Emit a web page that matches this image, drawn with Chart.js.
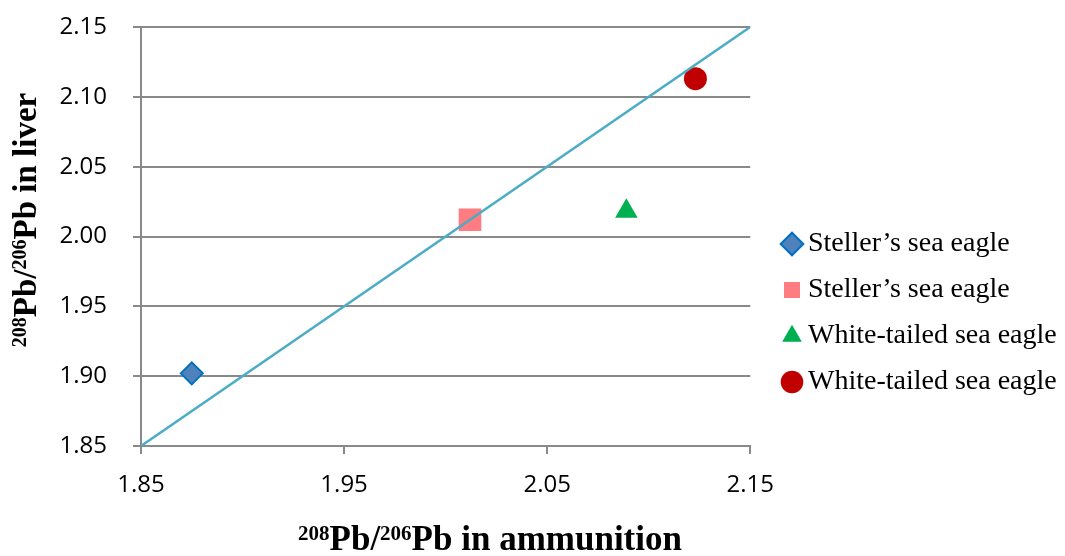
<!DOCTYPE html>
<html>
<head>
<meta charset="utf-8">
<script src="https://cdn.jsdelivr.net/npm/chart.js@4"></script>
<style>
  html, body { margin: 0; padding: 0; background: #fff; }
  #wrap { width: 1065px; height: 556px; }
</style>
</head>
<body>
<div id="wrap"><canvas id="leadChart"></canvas></div>
<script>
// series
const seriesNames = ['Steller’s sea eagle', 'Steller’s sea eagle', 'White-tailed sea eagle', 'White-tailed sea eagle'];
const ammunitionRatio = [1.875, 2.012, 2.089, 2.123];
const liverRatio = [1.902, 2.012, 2.018, 2.113];

// 1:1 reference line
const lineX = [1.85, 2.15];
const lineY = [1.85, 2.15];

// tick labels
const xTicks = [1.85, 1.95, 2.05, 2.15];
const yTicks = [1.85, 1.90, 1.95, 2.00, 2.05, 2.10, 2.15];

const gridGrey = '#898989';

// marker look for each series
const markers = [
    { pointStyle: 'rectRot', radius: 11, backgroundColor: '#4F81BD', borderColor: '#0070C0', borderWidth: 2 },
    { pointStyle: 'rect', radius: 16, backgroundColor: '#FF7C80', borderColor: '#FF7C80', borderWidth: 0 },
    { pointStyle: 'triangle', radius: 13, backgroundColor: '#00B050', borderColor: '#00B050', borderWidth: 0 },
    { pointStyle: 'circle', radius: 11.5, backgroundColor: '#C00000', borderColor: '#C00000', borderWidth: 0 }
];

const datasets = [{
    label: '1:1',
    data: lineX.map((x, i) => ({ x: x, y: lineY[i] })),
    showLine: true,
    pointRadius: 0,
    borderColor: '#4BACC6',
    borderWidth: 2.5,
    order: 0
}];

seriesNames.forEach((name, i) => {
    const m = markers[i];
    datasets.push({
        label: name,
        data: [{ x: ammunitionRatio[i], y: liverRatio[i] }],
        pointStyle: m.pointStyle,
        pointRadius: m.radius,
        backgroundColor: m.backgroundColor,
        borderColor: m.borderColor,
        borderWidth: m.borderWidth,
        order: 1
    });
});

// draws a title with superscript mass numbers
function drawRichText(ctx, parts, cx, baseY, size, supSize) {
    const mainFont = 'bold ' + size + 'px "Liberation Serif", "Times New Roman", serif';
    const supFont = 'bold ' + supSize + 'px "Liberation Serif", "Times New Roman", serif';
    let total = 0;
    parts.forEach(p => {
        ctx.font = p.sup ? supFont : mainFont;
        total += ctx.measureText(p.text).width;
    });
    let x = cx - total / 2;
    ctx.fillStyle = '#000';
    ctx.textBaseline = 'alphabetic';
    ctx.textAlign = 'left';
    parts.forEach(p => {
        ctx.font = p.sup ? supFont : mainFont;
        ctx.fillText(p.text, x, p.sup ? baseY - 10 : baseY);
        x += ctx.measureText(p.text).width;
    });
}

const axisTitles = {
    id: 'axisTitles',
    afterDraw(chart) {
        const ctx = chart.ctx;
        ctx.save();
        drawRichText(ctx, [
            { text: '208', sup: true }, { text: 'Pb/' },
            { text: '206', sup: true }, { text: 'Pb in ammunition' }
        ], 490, 550, 35, 21);
        ctx.restore();

        ctx.save();
        ctx.translate(36, 220);
        ctx.rotate(-Math.PI / 2);
        drawRichText(ctx, [
            { text: '208', sup: true }, { text: 'Pb/' },
            { text: '206', sup: true }, { text: 'Pb in liver' }
        ], 0, 0, 33, 20);
        ctx.restore();
    }
};

// put the legend where the original has it
const legendPlace = {
    id: 'legendPlace',
    afterLayout(chart) {
        const lg = chart.legend;
        if (!lg) return;
        const w = lg.width, h = lg.height;
        lg.left = 772;
        lg.right = lg.left + w;
        lg.top = 212;
        lg.bottom = lg.top + h;
    }
};

const ctx = document.getElementById('leadChart').getContext('2d');
const chart = new Chart(ctx, {
    type: 'scatter',
    data: { datasets: datasets },
    plugins: [axisTitles, legendPlace],
    options: {
        responsive: true,
        maintainAspectRatio: false,
        animation: false,
        events: [],
        layout: {
            padding: { left: 55, top: 27, right: 20, bottom: 0 }
        },
        plugins: {
            tooltip: { enabled: false },
            legend: {
                position: 'right',
                align: 'start',
                maxWidth: 330,
                labels: {
                    usePointStyle: true,
                    boxWidth: 4,
                    boxHeight: 16,
                    padding: 18,
                    color: '#000',
                    font: { family: '"Liberation Serif", "Times New Roman", serif', size: 28 },
                    filter: item => item.datasetIndex > 0
                }
            }
        },
        scales: {
            x: {
                type: 'linear',
                min: 1.85,
                max: 2.15,
                afterBuildTicks: scale => { scale.ticks = xTicks.map(v => ({ value: v })); },
                afterFit: scale => {
                    scale.height = 110;
                    scale.paddingLeft = 0;
                    scale.paddingRight = 0;
                },
                grid: {
                    drawOnChartArea: false,
                    drawTicks: true,
                    tickLength: 8,
                    color: gridGrey,
                    lineWidth: 2
                },
                border: { color: gridGrey, width: 2 },
                ticks: {
                    padding: 17,
                    color: '#000',
                    font: { family: '"Open Sans", sans-serif', size: 24 },
                    maxRotation: 0,
                    callback: v => v.toFixed(2)
                }
            },
            y: {
                type: 'linear',
                min: 1.85,
                max: 2.15,
                afterBuildTicks: scale => { scale.ticks = yTicks.map(v => ({ value: v })); },
                afterFit: scale => {
                    scale.width = 86;
                    scale.paddingTop = 0;
                    scale.paddingBottom = 0;
                },
                grid: {
                    drawTicks: true,
                    tickLength: 8,
                    color: gridGrey,
                    lineWidth: 2
                },
                border: { color: gridGrey, width: 2 },
                ticks: {
                    padding: 26,
                    color: '#000',
                    font: { family: '"Open Sans", sans-serif', size: 24 },
                    callback: v => v.toFixed(2)
                }
            }
        }
    }
});
</script>
</body>
</html>
